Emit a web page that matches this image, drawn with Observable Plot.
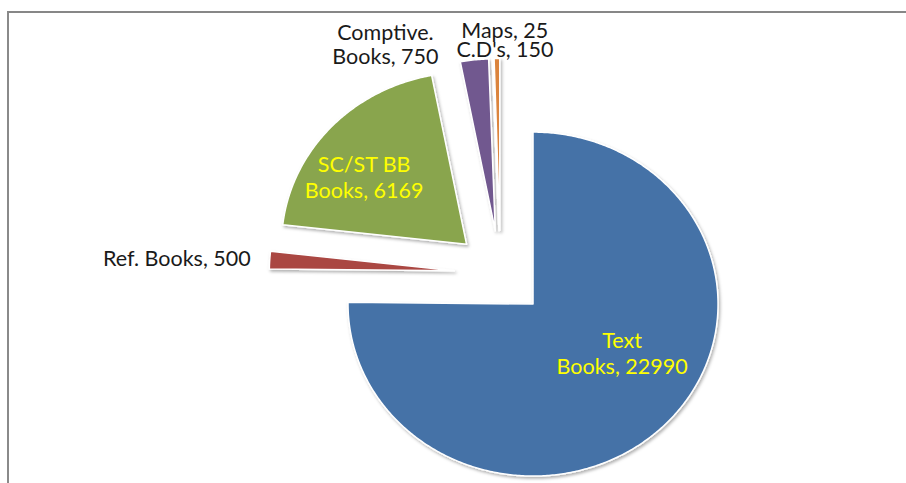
<!DOCTYPE html>
<html><head><meta charset="utf-8">
<script src="https://cdn.jsdelivr.net/npm/d3@7"></script>
<script src="https://cdn.jsdelivr.net/npm/@observablehq/plot@0.6"></script>
<style>
html,body{margin:0;padding:0;background:#fff;}
#wrap{position:relative;width:906px;height:483px;overflow:hidden;}
#frame{position:absolute;left:7px;top:11px;right:-10px;bottom:-10px;border-top:2px solid #878787;border-left:2px solid #8a8a8a;}
#chart{position:absolute;left:0;top:0;}
</style></head><body>
<div id="wrap"><div id="frame"></div><div id="chart"></div></div>
<script>
// ---- data ----
const categories = ["Text Books", "Ref. Books", "SC/ST BB Books", "Comptive. Books", "Maps", "C.D's"];
const values = [22990, 500, 6169, 750, 25, 150];
const labels = ["Text\nBooks, 22990", "Ref. Books, 500", "SC/ST BB\nBooks, 6169", "Comptive.\nBooks, 750", "Maps, 25", "C.D's, 150"];
const colors = ["#4572A7", "#AA4643", "#89A54E", "#71588F", "#4198AF", "#DB843D"];

// ---- layout ----
const W = 906, H = 483;
const CX = 500, CY = 273, RX = 185, RY = 172;   // pie centre and radii in px
const EXPLODE = 0.25;                            // explosion as fraction of radius
// label placement: kind, anchor radius (fraction), pixel offsets
const labelLayout = [
  {kind: "in",  r: 0.6, dx: 11,  dy: -25},
  {kind: "end", r: 1.0, dx: -19, dy: -1},
  {kind: "in",  r: 0.6, dx: -21, dy: 3},
  {kind: "out", r: 1.0, dx: -89, dy: -16},
  {kind: "out", r: 1.0, dx: 12,  dy: -28},
  {kind: "out", r: 1.0, dx: 8,   dy: -9}
];

const arcs = d3.pie().sort(null).value(d => d)(values);
const pts = [];
const labelRows = [];
arcs.forEach((a, i) => {
  const m = (a.startAngle + a.endAngle) / 2;
  const tx = EXPLODE * Math.sin(m), ty = EXPLODE * Math.cos(m);
  pts.push({cat: categories[i], x: tx, y: ty});
  const n = Math.max(2, Math.ceil((a.endAngle - a.startAngle) / 0.01));
  for (let k = 0; k <= n; k++) {
    const t = a.startAngle + (a.endAngle - a.startAngle) * k / n;
    pts.push({cat: categories[i], x: tx + Math.sin(t), y: ty + Math.cos(t)});
  }
  pts.push({cat: categories[i], x: tx, y: ty});
  const L = labelLayout[i];
  labelRows.push({
    kind: L.kind,
    label: labels[i],
    x: tx + L.r * Math.sin(m) + L.dx / RX,
    y: ty + L.r * Math.cos(m) - L.dy / RY
  });
});

const font = "Lato, 'Open Sans', sans-serif";
const fs = 21.5;
const plot = Plot.plot({
  width: W, height: H, margin: 0,
  style: {background: "transparent", overflow: "visible"},
  x: {domain: [-CX / RX, (W - CX) / RX], axis: null},
  y: {domain: [-(H - CY) / RY, CY / RY], axis: null},
  color: {domain: categories, range: colors},
  marks: [
    Plot.line(pts, {x: "x", y: "y", z: "cat", fill: "cat", stroke: "#ffffff", strokeWidth: 1.5, strokeLinejoin: "round", curve: "linear"}),
    Plot.text(labelRows.filter(d => d.kind === "in"), {x: "x", y: "y", text: "label", fill: "#ffff00", fontSize: fs, fontFamily: font, lineHeight: 1.21, textAnchor: "middle"}),
    Plot.text(labelRows.filter(d => d.kind === "out"), {x: "x", y: "y", text: "label", fill: "#1a1a1a", fontSize: fs, fontFamily: font, lineHeight: 1.12, textAnchor: "middle"}),
    Plot.text(labelRows.filter(d => d.kind === "end"), {x: "x", y: "y", text: "label", fill: "#1a1a1a", fontSize: fs, fontFamily: font, textAnchor: "end"})
  ]
});

// soft drop shadow under the slices
const svg = d3.select(plot);
const defs = svg.insert("defs", ":first-child");
defs.append("filter").attr("id", "sliceShadow").attr("x", "-10%").attr("y", "-10%").attr("width", "130%").attr("height", "130%")
  .append("feDropShadow").attr("dx", 1.5).attr("dy", 2).attr("stdDeviation", 1.8)
  .attr("flood-color", "#000").attr("flood-opacity", 0.3);
svg.select("g[aria-label='line']").attr("filter", "url(#sliceShadow)");

document.getElementById("chart").appendChild(plot);
</script>
</body></html>
